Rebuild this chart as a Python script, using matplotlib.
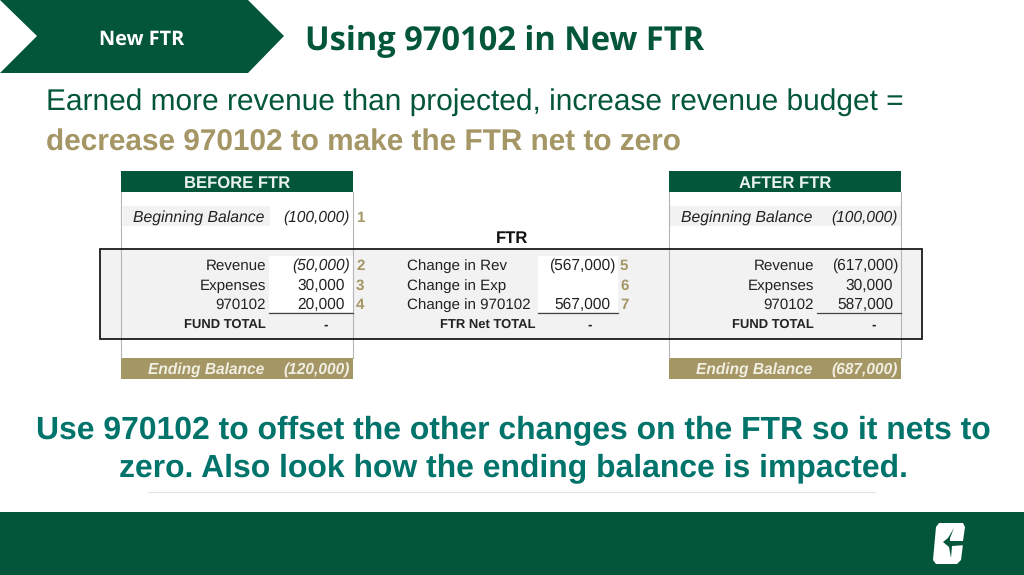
"""Slide: using 970102 in a new FTR, drawn on a pixel-sized canvas."""
import matplotlib
matplotlib.use("Agg")
import matplotlib.pyplot as plt
from matplotlib.patches import Polygon, Rectangle

plt.rcParams["text.hinting"] = "no_hinting"

GREEN = "#04563a"
GOLD = "#a49665"
TEAL = "#00736b"
GREY = "#f2f2f2"
SANS = "Liberation Sans"

# table contents
before_labels = ["Revenue", "Expenses", "970102"]
before_values = ["(50,000)", "30,000", "20,000"]
before_notes = ["2", "3", "4"]
ftr_labels = ["Change in Rev", "Change in Exp", "Change in 970102"]
ftr_values = ["(567,000)", "", "567,000"]
ftr_notes = ["5", "6", "7"]
after_labels = ["Revenue", "Expenses", "970102"]
after_values = ["(617,000)", "30,000", "587,000"]
row_y = [266, 286, 305]
begin_before = "(100,000)"
begin_after = "(100,000)"
end_before = "(120,000)"
end_after = "(687,000)"
VAL_SIZE = 11.2

fig = plt.figure(figsize=(10.24, 5.75), dpi=100)
ax = fig.add_axes([0, 0, 1, 1])
ax.set_xlim(0, 1024)
ax.set_ylim(575, 0)
ax.axis("off")


def rect(x0, y0, x1, y1, color, z=1):
    ax.add_patch(Rectangle((x0, y0), x1 - x0, y1 - y0, fc=color, ec="none", zorder=z))


def txt(x, y, s, size=10.9, color="#222222", ha="right", weight="normal", style="normal", family=SANS):
    ax.text(x, y, s, fontsize=size, color=color, ha=ha, va="center", weight=weight,
            style=style, family=family, zorder=5)


# header and footer
ax.add_patch(Polygon([(0, 0), (248, 0), (284, 36), (248, 73), (0, 73), (37, 36)], fc=GREEN, ec="none"))
txt(142, 40, "New FTR", size=14.3, color="white", ha="center", weight="bold", family="Open Sans")
txt(305, 41, "Using 970102 in New FTR", size=23.5, color=GREEN, ha="left", weight="bold", family="Open Sans")
rect(0, 512, 1024, 575, GREEN)
ax.plot([148, 875], [492, 492], color="#e4e4e4", lw=0.8)

# logo mark
ax.add_patch(Polygon([(939, 523), (963, 523), (965, 527), (963, 541), (949, 541), (963, 544),
                      (961, 560), (957, 564), (936, 564), (933, 560), (936, 527)],
                     fc="white", ec="none", zorder=3))
ax.add_patch(Polygon([(954, 528), (948, 538), (943, 542), (949, 547), (951, 558), (952, 546), (966, 545),
                      (966, 541), (950, 541), (950, 538)], fc=GREEN, ec="none", zorder=4))

# intro text
txt(46, 102, "Earned more revenue than projected, increase revenue budget =", size=21.5, color=GREEN, ha="left")
txt(46, 143, "decrease 970102 to make the FTR net to zero", size=21.45, color=GOLD, ha="left", weight="bold")

# highlighted band behind the three tables
rect(101, 249, 921, 339, GREY)

# before and after panels
for x0, x1, title, begin, end, box0, box1 in [
        (121, 353, "BEFORE FTR", begin_before, end_before, 123, 270),
        (669, 901, "AFTER FTR", begin_after, end_after, 669, 901)]:
    rect(x0, 171, x1, 192, GREEN, 2)
    txt((x0 + x1) / 2, 184, title, size=12, color="#e8f2ec", ha="center", weight="bold")
    rect(x0, 358, x1, 379, GOLD, 2)
    rect(box0, 206, box1, 226, GREY, 2)
    txt(x0 + 143, 218, "Beginning Balance", size=11.35, style="italic")
    txt(x1 - 3, 218, begin, size=VAL_SIZE, style="italic")
    txt(x0 + 143, 370, "Ending Balance", size=11.2, color="#f1eee2", style="italic", weight="bold")
    txt(x1 - 3, 370, end, size=11.2, color="#f1eee2", style="italic", weight="bold")
    ax.plot([x0, x0], [192, 358], color="#b5b5b5", lw=0.8, zorder=3)
    ax.plot([x1, x1], [192, 358], color="#b5b5b5", lw=0.8, zorder=3)

# white input cells
rect(269, 256, 353, 312, "white", 2)
rect(538, 256, 618, 312, "white", 2)

# left table
for y, lab, val, note in zip(row_y, before_labels, before_values, before_notes):
    txt(266, y, lab)
    txt(350 if val.endswith(")") else 345, y, val, size=VAL_SIZE, style="italic" if val.endswith(")") else "normal")
    txt(356, y, note, color=GOLD, ha="left", weight="bold")
txt(356, 218, "1", color=GOLD, ha="left", weight="bold")
ax.plot([269, 353], [313, 313], color="#444444", lw=0.9, zorder=4)
txt(266, 325, "FUND TOTAL", size=9.35, weight="bold")
txt(326, 325, "-", size=9.5, ha="center", weight="bold")

# middle table
txt(512, 239, "FTR", size=12, color="#111111", ha="center", weight="bold")
for y, lab, val, note in zip(row_y, ftr_labels, ftr_values, ftr_notes):
    txt(407, y, lab, ha="left")
    txt(615 if val.endswith(")") else 610, y, val, size=VAL_SIZE)
    txt(620, y, note, color=GOLD, ha="left", weight="bold")
ax.plot([538, 618], [313, 313], color="#444444", lw=0.9, zorder=4)
txt(536, 325, "FTR Net TOTAL", size=9.35, weight="bold")
txt(590, 325, "-", size=9.5, ha="center", weight="bold")

# right table
for y, lab, val in zip(row_y, after_labels, after_values):
    txt(814, y, lab)
    txt(898 if val.endswith(")") else 893, y, val, size=VAL_SIZE)
ax.plot([817, 901], [313, 313], color="#444444", lw=0.9, zorder=4)
txt(814, 325, "FUND TOTAL", size=9.35, weight="bold")
txt(874, 325, "-", size=9.5, ha="center", weight="bold")

# outline around the band
ax.add_patch(Rectangle((100, 249), 822, 90, fc="none", ec="#1a1a1a", lw=1.3, zorder=6))

# closing text
txt(513, 430, "Use 970102 to offset the other changes on the FTR so it nets to", size=22.95, color=TEAL,
    ha="center", weight="bold")
txt(513, 468, "zero. Also look how the ending balance is impacted.", size=22.95, color=TEAL,
    ha="center", weight="bold")

fig.savefig("out.png", dpi=100)
plt.close(fig)
